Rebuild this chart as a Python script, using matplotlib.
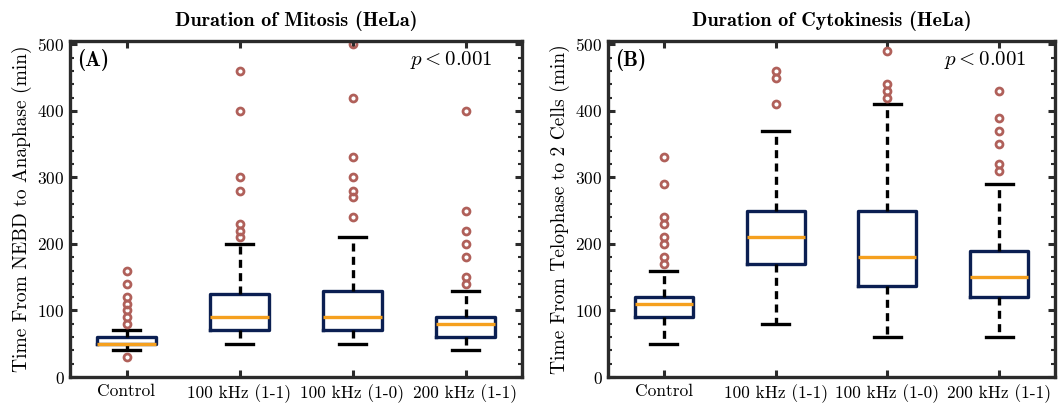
import numpy as np
import matplotlib
matplotlib.use("Agg")
import matplotlib.pyplot as plt
from matplotlib.ticker import MultipleLocator

plt.rcParams["font.family"] = "serif"
plt.rcParams["font.serif"] = ["cmr10"]
plt.rcParams["mathtext.fontset"] = "cm"
plt.rcParams["axes.formatter.use_mathtext"] = True

BOX = "#0b1f52"
MED = "#f5a01e"
FLIER = "#b0605a"
SPINE = "#2b2b2b"

groups = ["Control", "100 kHz (1-1)", "100 kHz (1-0)", "200 kHz (1-1)"]

# mitosis (panel A): whisker low, q1, median, q3, whisker high
mit_lo = [40, 50, 50, 40]
mit_q1 = [50, 70, 70, 60]
mit_med = [50, 90, 90, 80]
mit_q3 = [60, 125, 130, 90]
mit_hi = [70, 200, 210, 130]
mit_out = [
    [30, 80, 90, 100, 110, 120, 140, 160],
    [210, 220, 230, 280, 300, 400, 460],
    [240, 270, 280, 300, 330, 420, 500],
    [140, 150, 180, 200, 220, 250, 400],
]

# cytokinesis (panel B)
cyt_lo = [50, 80, 60, 60]
cyt_q1 = [90, 170, 137, 120]
cyt_med = [110, 210, 180, 150]
cyt_q3 = [120, 250, 250, 190]
cyt_hi = [160, 370, 410, 290]
cyt_out = [
    [170, 180, 200, 210, 230, 240, 290, 330],
    [410, 450, 460],
    [420, 430, 440, 490],
    [310, 320, 350, 370, 390, 430],
]


def make_stats(lo, q1, med, q3, hi, out):
    stats = []
    for i in range(len(groups)):
        stats.append(dict(whislo=lo[i], q1=q1[i], med=med[i], q3=q3[i],
                          whishi=hi[i], fliers=out[i], label=groups[i]))
    return stats


fig = plt.figure(figsize=(10.59, 4.03), dpi=100)
axA = fig.add_axes([70 / 1059, 26 / 403, 452 / 1059, 336 / 403])
axB = fig.add_axes([608 / 1059, 26 / 403, 447 / 1059, 336 / 403])

panels = [
    (axA, make_stats(mit_lo, mit_q1, mit_med, mit_q3, mit_hi, mit_out),
     "Duration of Mitosis (HeLa)", "Time From NEBD to Anaphase (min)", "(A)"),
    (axB, make_stats(cyt_lo, cyt_q1, cyt_med, cyt_q3, cyt_hi, cyt_out),
     "Duration of Cytokinesis (HeLa)", "Time From Telophase to 2 Cells (min)", "(B)"),
]

for ax, stats, title, ylabel, tag in panels:
    ax.bxp(stats, widths=0.52,
           boxprops=dict(color=BOX, linewidth=2.4),
           medianprops=dict(color=MED, linewidth=2.4),
           whiskerprops=dict(color="black", linewidth=2.4, linestyle=(0, (2.4, 1.6))),
           capprops=dict(color="black", linewidth=2.4),
           capwidths=0.24,
           flierprops=dict(marker="o", markerfacecolor="none",
                           markeredgecolor=FLIER, markeredgewidth=2.0,
                           markersize=5))
    ax.set_ylim(0, 505)
    ax.set_xlim(0.5, 4.5)
    ax.yaxis.set_major_locator(MultipleLocator(100))
    ax.yaxis.set_minor_locator(MultipleLocator(20))
    ax.tick_params(axis="both", which="both", direction="in", top=True,
                   right=True, colors="black", labelsize=12.5)
    ax.tick_params(axis="both", which="major", length=5, width=2.2, color=SPINE)
    ax.tick_params(axis="y", which="minor", length=3, width=1.5, color=SPINE)
    ax.tick_params(axis="x", which="major", pad=5)
    ax.tick_params(axis="y", which="major", pad=4)
    for sp in ax.spines.values():
        sp.set_color(SPINE)
        sp.set_linewidth(2.4)
    ax.set_title(title, fontsize=14.5, family="serif", fontweight="bold",
                 fontname="cmb10", pad=11)
    ax.set_ylabel(ylabel, fontsize=14, labelpad=4)
    ax.text(0.015, 0.975, tag, transform=ax.transAxes, fontsize=15,
            fontname="cmb10", va="top", ha="left")
    ax.text(0.935, 0.975, r"$p < 0.001$", transform=ax.transAxes, fontsize=15,
            va="top", ha="right")

fig.savefig("out.png", dpi=100)
